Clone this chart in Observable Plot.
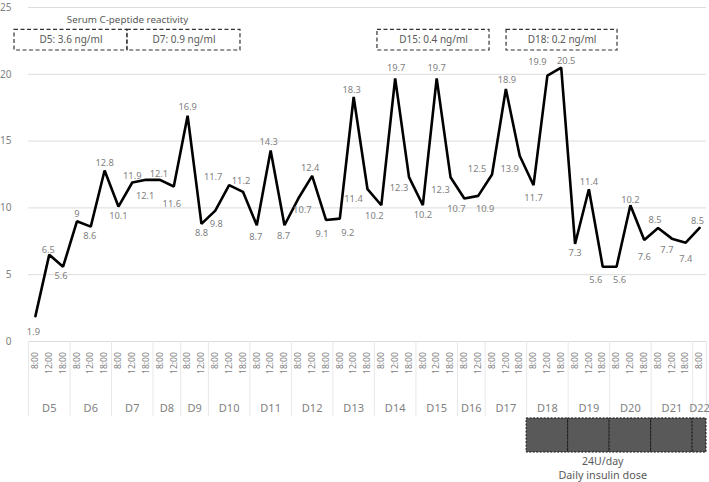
<!DOCTYPE html>
<html>
<head>
<meta charset="utf-8">
<script src="https://cdn.jsdelivr.net/npm/d3@7"></script>
<script src="https://cdn.jsdelivr.net/npm/@observablehq/plot@0.6"></script>
<style>
  html, body { margin: 0; padding: 0; background: #fff; }
  #chart { width: 709px; height: 482px; }
</style>
</head>
<body>
<div id="chart"></div>
<script>
// ---------- data ----------
const dayNames = ["D5","D6","D7","D8","D9","D10","D11","D12","D13","D14","D15","D16","D17","D18","D19","D20","D21","D22"];
const slotsPerDay = [3,3,3,2,2,3,3,3,3,3,3,2,3,3,3,3,3,1];
const timeLabels = [
  "8:00","12:00","18:00", "8:00","12:00","18:00", "8:00","12:00","18:00",
  "8:00","12:00", "8:00","12:00",
  "8:00","12:00","18:00", "8:00","12:00","18:00", "8:00","12:00","18:00",
  "8:00","12:00","18:00", "8:00","12:00","18:00", "8:00","12:00","18:00",
  "8:00","12:00",
  "8:00","12:00","18:00", "8:00","12:00","18:00", "8:00","12:00","18:00",
  "8:00","12:00","18:00", "8:00","12:00","18:00", "8:00"
];
const glucose = [
  1.9, 6.5, 5.6,  9, 8.6, 12.8,  10.1, 11.9, 12.1,
  12.1, 11.6,  16.9, 8.8,
  9.8, 11.7, 11.2,  8.7, 14.3, 8.7,  10.7, 12.4, 9.1,
  9.2, 18.3, 11.4,  10.2, 19.7, 12.3,  10.2, 19.7, 12.3,
  10.7, 10.9,
  12.5, 18.9, 13.9,  11.7, 19.9, 20.5,  7.3, 11.4, 5.6,
  5.6, 10.2, 7.6,  8.5, 7.7, 7.4,  8.5
];
const yTicks = [0, 5, 10, 15, 20, 25];
const cPeptideTitle = "Serum C-peptide reactivity";
const cPeptideLabels = ["D5: 3.6 ng/ml", "D7: 0.9 ng/ml", "D15: 0.4 ng/ml", "D18: 0.2 ng/ml"];
const insulinDays = ["D18","D19","D20","D21","D22"];
const insulinDose = "24U/day";
const insulinCaption = "Daily insulin dose";

// ---------- layout / style (not data) ----------
// label nudges [dx, dy] in px, per point
const labelNudge = [
  [-2,16],[-1,-5],[-2,9],[0,-7],[-1,9],[0,-7],[0,9],[0,-7],[-1,16],
  [-1,-6],[-2,17],[0,-9],[0,9],
  [1,13],[-16,-8],[-2,-11],[-1,12],[-2,-8],[-1,11],[4,11],[-2,-8],[-4,14],
  [8,14],[-2,-7],[-14,10],[-7,11],[1,-10],[-10,11],[0,10],[0,-10],[-10,13],
  [-8,10],[7,13],
  [-15,-5],[1,-9],[-10,13],[0,13],[-10,-14],[5,-7],[0,9],[0,-7],[-7,13],
  [3,13],[0,-5],[0,17],[-3,-8],[-5,11],[0,16],[-2,-7]
];
// annotation box spans in x-index units
const boxSpans = [[-1.51, 6.65], [6.65, 14.82], [24.72, 32.82], [34.05, 42.07]];
const boxY = [21.78, 23.33];

// ---------- derived tables ----------
const points = glucose.map((v, i) => ({i, v, t: timeLabels[i]}));
const dayRanges = [];
{
  let s = 0;
  dayNames.forEach((d, k) => {
    dayRanges.push({day: d, x1: s - 0.5, x2: s + slotsPerDay[k] - 0.5, mid: s + (slotsPerDay[k] - 1) / 2});
    s += slotsPerDay[k];
  });
}
const boundaries = [dayRanges[0].x1, ...dayRanges.map(d => d.x2)];
const insulinRects = dayRanges.filter(d => insulinDays.includes(d.day));
const insulinTextX = 41;
const boxes = cPeptideLabels.map((label, k) => ({label, x1: boxSpans[k][0], x2: boxSpans[k][1]}));

const labelColor = "#7f7f7f";
const darkText = "#595959";
const font = "'Noto Sans', sans-serif";

const valueLabels = points.map((p, k) =>
  Plot.text([p], {x: "i", y: "v", text: d => String(d.v), dx: labelNudge[k][0], dy: labelNudge[k][1], fontSize: 9.3, fill: labelColor})
);

const chart = Plot.plot({
  width: 709,
  height: 482,
  marginLeft: 28,
  marginRight: 3,
  marginTop: 7,
  marginBottom: 141,
  style: {fontFamily: font, background: "#fff", overflow: "visible"},
  x: {domain: [-0.5, glucose.length - 0.5], axis: null},
  y: {domain: [0, 25], axis: null},
  marks: [
    // grid
    Plot.ruleY(yTicks, {stroke: "#dcdcdc", strokeWidth: 1}),
    Plot.axisY({ticks: yTicks, tickSize: 0, tickPadding: 17, fontSize: 10, color: labelColor, label: null}),
    // category separators
    Plot.ruleX(boundaries, {y1: 0, y2: -5.6, stroke: "#e8e8e8", strokeWidth: 1}),
    // time labels
    Plot.text(points, {x: "i", y: -0.8, text: "t", rotate: -90, textAnchor: "end", fontSize: 8.5, fill: labelColor}),
    // day labels
    Plot.text(dayRanges, {x: "mid", y: -5.0, text: "day", fontSize: 11, fill: labelColor}),
    // insulin boxes
    Plot.rect(insulinRects, {x1: "x1", x2: "x2", y1: -5.76, y2: -8.31, fill: "#595959", stroke: "#111", strokeWidth: 1, strokeDasharray: "2,1.5"}),
    Plot.text([insulinDose], {x: insulinTextX, y: -9.0, text: d => d, fontSize: 10.5, fill: darkText}),
    Plot.text([insulinCaption], {x: insulinTextX, y: -10.05, text: d => d, fontSize: 10.8, fill: darkText}),
    // c-peptide annotations
    Plot.text([cPeptideTitle], {x: (boxSpans[0][0] + boxSpans[1][1]) / 2, y: 24.05, text: d => d, fontSize: 9.8, fill: darkText}),
    Plot.rect(boxes, {x1: "x1", x2: "x2", y1: boxY[0], y2: boxY[1], fill: "none", stroke: "#333", strokeWidth: 1.2, strokeDasharray: "4,2.5"}),
    Plot.text(boxes, {x: d => (d.x1 + d.x2) / 2, y: (boxY[0] + boxY[1]) / 2, text: "label", fontSize: 10, fill: darkText}),
    // glucose line
    Plot.line(points, {x: "i", y: "v", stroke: "#000", strokeWidth: 2.6, strokeLinejoin: "miter"}),
    // data labels
    ...valueLabels
  ]
});
document.getElementById("chart").appendChild(chart);
</script>
</body>
</html>
